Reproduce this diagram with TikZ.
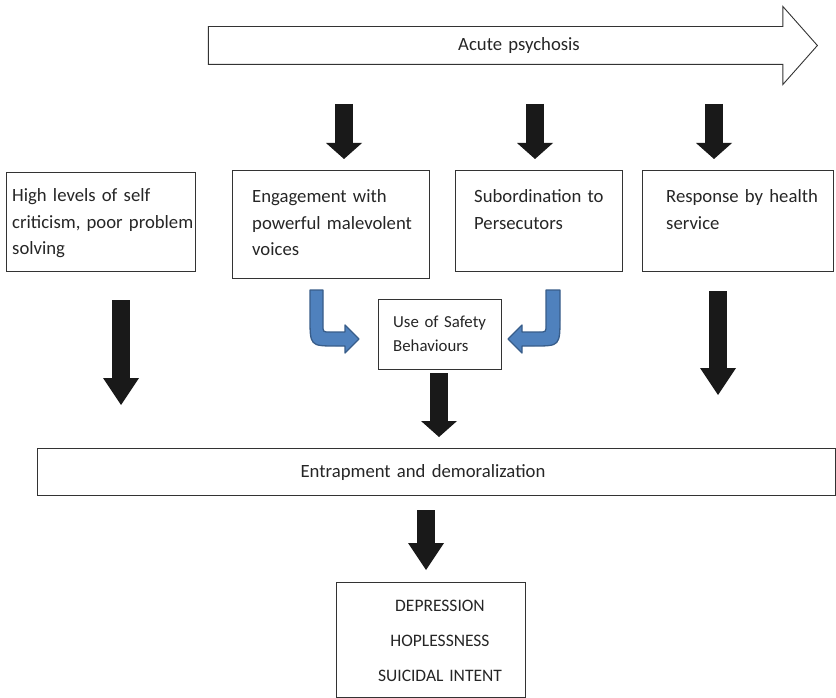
\documentclass[tikz,border=0pt]{standalone}
\usepackage{fontspec}
\setmainfont{Carlito}
\usetikzlibrary{arrows.meta,shapes.arrows}

\definecolor{bendblue}{RGB}{79,129,189}
\definecolor{bendline}{RGB}{56,93,138}

\begin{document}
\begin{tikzpicture}[x=1pt,y=-1pt]
\tikzset{box/.style={draw=black!80,line width=0.9pt,inner sep=0pt,anchor=north west},
  lbl/.style={text width=210pt,align=left,anchor=base west,inner sep=0pt,text=black!85,
    font=\fontsize{18.7}{26.5}\selectfont},
  mid/.style={lbl,text width=300pt,align=center,anchor=base},
  fat/.style={line width=18pt,draw=black!90,-{Triangle[width=36pt,length=27pt,line width=0pt]}},
  fatshort/.style={fat,-{Triangle[width=36pt,length=16pt,line width=0pt]}},
  bluebend/.style={fill=bendblue,draw=bendline,line width=1.3pt,line join=round}}

\path[use as bounding box,fill=white] (0,0) rectangle (836,698);

% acute psychosis
\node[single arrow,draw=black!80,line width=0.9pt,single arrow head extend=20pt,
  single arrow tip angle=97,minimum height=609pt,text height=12pt,text depth=4pt,
  inner ysep=10.5pt] (psy) at (504.5,45.5) {};
\node[mid] (psytxt) at (519,51) {Acute psychosis};

% boxes
\path (6,172) node[box,minimum width=189pt,minimum height=99pt] (crit) {};
\path (232,170) node[box,minimum width=197pt,minimum height=108pt] (voices) {};
\path (455,170) node[box,minimum width=167pt,minimum height=101pt] (subord) {};
\path (642,170) node[box,minimum width=191pt,minimum height=101pt] (resp) {};
\path (378,299) node[box,minimum width=123pt,minimum height=70pt] (safe) {};
\path (37,448) node[box,minimum width=798pt,minimum height=47pt] (trap) {};
\path (336,582) node[box,minimum width=189pt,minimum height=115pt] (out) {};

\node[lbl] (crittxt) at (12,202) {High levels of self\\criticism, poor problem\\solving};
\node[lbl] (voicestxt) at (252,203) {Engagement with\\powerful malevolent\\voices};
\node[lbl] (subordtxt) at (474,203) {Subordination to\\Persecutors};
\node[lbl] (resptxt) at (666,203) {Response by health\\service};
\node[lbl,font=\fontsize{16.8}{24}\selectfont] (safetxt) at (393,327) {Use of Safety\\Behaviours};
\node[mid] (traptxt) at (423,477) {Entrapment and demoralization};
\node[mid,font=\fontsize{17.5}{35}\selectfont] (outtxt) at (440,611) {DEPRESSION\\HOPLESSNESS\\SUICIDAL INTENT};

% block arrows
\path (344,104) coordinate (s1) (344,159) coordinate (e1);
\path (535,104) coordinate (s2) (535,159) coordinate (e2);
\path (714,104) coordinate (s3) (714,159) coordinate (e3);
\path (121,300) coordinate (s4) (121,405) coordinate (e4);
\path (718,291) coordinate (s5) (718,395) coordinate (e5);
\path (439,373) coordinate (s6) (439,437) coordinate (e6);
\path (426,510) coordinate (s7) (426,570) coordinate (e7);

\draw[fatshort] (s1) -- (e1);
\draw[fatshort] (s2) -- (e2);
\draw[fatshort] (s3) -- (e3);
\draw[fat] (s4) -- (e4);
\draw[fat] (s5) -- (e5);
\draw[fatshort] (s6) -- (e6);
\draw[fat] (s7) -- (e7);

% blue bent arrows
\draw[bluebend] (310,290) -- (310,317) .. controls (310,346) .. (336,346) -- (345,346) -- (345,353)
  -- (359,339) -- (345,325) -- (345,332) -- (330,332) .. controls (323,332) .. (323,325) -- (323,290) -- cycle;
\draw[bluebend] (560,290) -- (560,317) .. controls (560,346) .. (534,346) -- (522,346) -- (522,353)
  -- (508,339) -- (522,325) -- (522,332) -- (539,332) .. controls (546,332) .. (546,325) -- (546,290) -- cycle;
\end{tikzpicture}
\end{document}
